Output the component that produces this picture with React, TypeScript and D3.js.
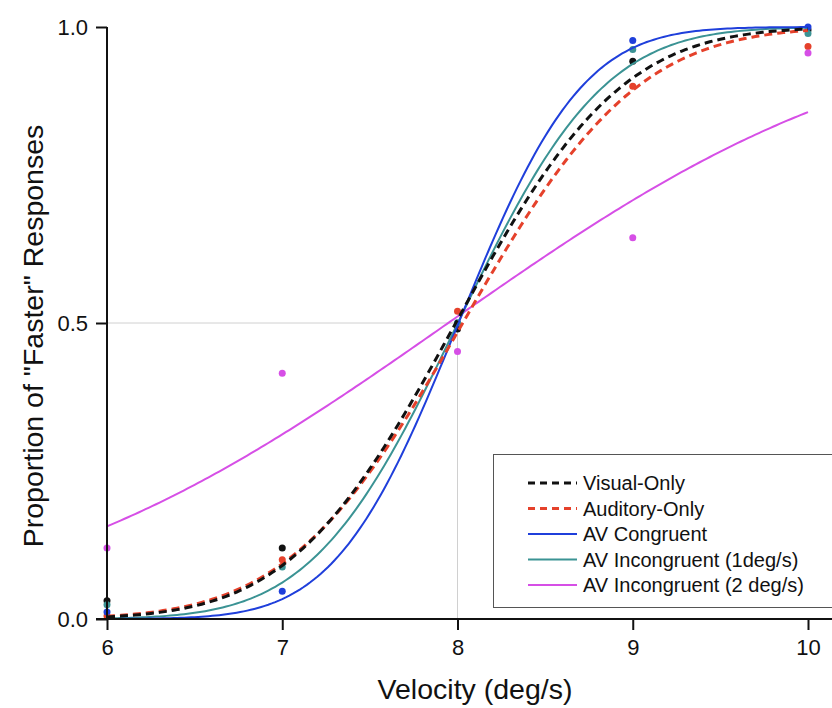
import React, { useEffect, useRef } from "react";
import * as d3 from "d3";

// velocities tested (deg/s)
const velocities = [6, 7, 8, 9, 10];

// proportion of "faster" responses per condition
const visualOnly = [0.031, 0.12, 0.49, 0.942, 0.995];
const auditoryOnly = [0.005, 0.1, 0.52, 0.9, 0.967];
const avCongruent = [0.012, 0.047, 0.5, 0.977, 1.0];
const avIncong1 = [0.024, 0.088, 0.5, 0.962, 0.989];
const avIncong2 = [0.12, 0.415, 0.452, 0.644, 0.956];

// fitted cumulative-gaussian parameters (mean, sd)
const fitMu = [7.99, 8.03, 8.006, 8.002, 7.947];
const fitSigma = [0.74, 0.78, 0.55, 0.65, 1.93];

const labels = [
  "Visual-Only",
  "Auditory-Only",
  "AV Congruent",
  "AV Incongruent (1deg/s)",
  "AV Incongruent (2 deg/s)",
];
const colors = ["#111111", "#e5412b", "#1f3fdb", "#3b9394", "#d64fe6"];
const dashed = [true, true, false, false, false];

const yTicks = [0, 0.5, 1];
const xTicks = [6, 7, 8, 9, 10];

const W = 832;
const H = 708;
const FONT = "'Liberation Sans', Arial, sans-serif";

const App = () => {
  const svgRef = useRef<SVGSVGElement>(null);

  useEffect(() => {
    const svg = d3.select(svgRef.current);
    svg.selectAll("*").remove();

    const x = d3.scaleLinear().domain([6, 10]).range([107, 808]);
    const y = d3.scaleLinear().domain([0, 1]).range([619, 27]);

    // reference lines at PSE
    svg
      .append("line")
      .attr("x1", x(6))
      .attr("x2", x(8))
      .attr("y1", y(0.5))
      .attr("y2", y(0.5))
      .attr("stroke", "#d0d0d0");
    svg
      .append("line")
      .attr("x1", x(8))
      .attr("x2", x(8))
      .attr("y1", y(0.5))
      .attr("y2", y(0))
      .attr("stroke", "#d0d0d0");

    const series = [visualOnly, auditoryOnly, avCongruent, avIncong1, avIncong2];

    // data points
    series.forEach((vals, i) => {
      svg
        .append("g")
        .selectAll("circle")
        .data(vals)
        .join("circle")
        .attr("cx", (d, j) => x(velocities[j]))
        .attr("cy", (d) => y(d))
        .attr("r", 3.5)
        .attr("fill", colors[i]);
    });

    // fitted curves
    const xs = d3.range(6, 10.0001, 0.02);
    const cdf = (z: number) => {
      // normal CDF via erf approximation
      const t = 1 / (1 + 0.3275911 * Math.abs(z) / Math.SQRT2);
      const e =
        1 -
        (((((1.061405429 * t - 1.453152027) * t + 1.421413741) * t - 0.284496736) * t +
          0.254829592) *
          t) *
          Math.exp(-(z * z) / 2);
      return z >= 0 ? 0.5 * (1 + e) : 0.5 * (1 - e);
    };
    const line = d3
      .line<number[]>()
      .x((d) => x(d[0]))
      .y((d) => y(d[1]));

    const order = [4, 3, 2, 1, 0];
    order.forEach((i) => {
      const pts = xs.map((v) => [v, cdf((v - fitMu[i]) / fitSigma[i])]);
      svg
        .append("path")
        .attr("d", line(pts))
        .attr("fill", "none")
        .attr("stroke", colors[i])
        .attr("stroke-width", dashed[i] ? 3 : 2)
        .attr("stroke-dasharray", dashed[i] ? "8,5" : null);
    });

    // axes
    const yAxis = d3
      .axisLeft(y)
      .tickValues(yTicks)
      .tickFormat(d3.format(".1f"))
      .tickSize(11)
      .tickPadding(8)
      .tickSizeOuter(0);
    const gy = svg.append("g").attr("transform", `translate(${x(6)},0)`).call(yAxis);

    const xAxis = d3
      .axisBottom(x)
      .tickValues(xTicks)
      .tickFormat(d3.format("d"))
      .tickSize(11)
      .tickPadding(9)
      .tickSizeOuter(0);
    const gx = svg.append("g").attr("transform", `translate(0,${y(0)})`).call(xAxis);

    [gx, gy].forEach((g) => {
      g.select(".domain").remove();
      g.selectAll("line").attr("stroke", "#111").attr("stroke-width", 2);
      g.selectAll("text")
        .attr("fill", "#111")
        .style("font-family", FONT)
        .style("font-size", "22px");
    });

    svg
      .append("line")
      .attr("x1", x(6))
      .attr("x2", x(6))
      .attr("y1", y(1))
      .attr("y2", y(0))
      .attr("stroke", "#111")
      .attr("stroke-width", 2);
    svg
      .append("line")
      .attr("x1", x(6) - 11)
      .attr("x2", W)
      .attr("y1", y(0))
      .attr("y2", y(0))
      .attr("stroke", "#111")
      .attr("stroke-width", 2);

    // axis titles
    svg
      .append("text")
      .attr("x", 475)
      .attr("y", 699)
      .attr("text-anchor", "middle")
      .style("font-family", FONT)
      .style("font-size", "28.5px")
      .attr("fill", "#111")
      .text("Velocity (deg/s)");
    svg
      .append("text")
      .attr("transform", "translate(43,336) rotate(-90)")
      .attr("text-anchor", "middle")
      .style("font-family", FONT)
      .style("font-size", "28.5px")
      .attr("fill", "#111")
      .text('Proportion of "Faster" Responses');

    // legend
    const lg = svg.append("g").attr("transform", "translate(493,454)");
    lg.append("rect")
      .attr("x", 0.5)
      .attr("y", 0.5)
      .attr("width", 345)
      .attr("height", 153)
      .attr("fill", "white")
      .attr("stroke", "#555");
    const rows = lg
      .selectAll("g.row")
      .data(labels)
      .join("g")
      .attr("class", "row")
      .attr("transform", (d, i) => `translate(0,${29 + i * 25.5})`);
    rows
      .append("line")
      .attr("x1", 35)
      .attr("x2", 84)
      .attr("stroke", (d, i) => colors[i])
      .attr("stroke-width", (d, i) => (dashed[i] ? 3 : 2))
      .attr("stroke-dasharray", (d, i) => (dashed[i] ? "7,5" : null));
    rows
      .append("text")
      .attr("x", 90)
      .attr("dy", "0.35em")
      .style("font-family", FONT)
      .style("font-size", "20px")
      .attr("fill", "#111")
      .text((d) => d);
  }, []);

  return (
    <svg
      ref={svgRef}
      width={W}
      height={H}
      style={{ position: "absolute", left: 0, top: 0, background: "white" }}
    />
  );
};

export default App;
